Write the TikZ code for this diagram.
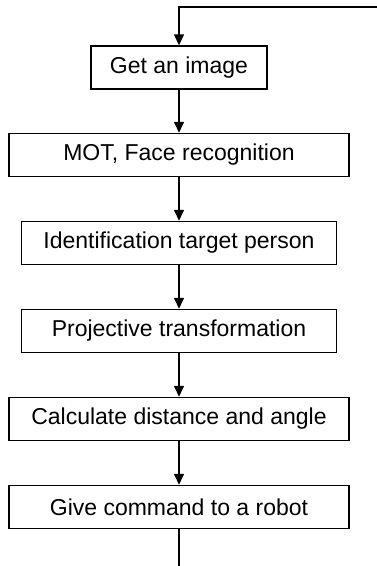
\documentclass[tikz,border=0pt]{standalone}
\usepackage{fontspec}
\setmainfont{Liberation Sans}
\usetikzlibrary{arrows.meta}
\begin{document}
\begin{tikzpicture}[x=1pt,y=-1pt,>={Triangle[width=10pt,length=11pt]},line width=1.4pt,font=\fontsize{23}{27}\selectfont]
			\tikzset{stepbox/.style={draw,minimum height=43pt,inner sep=0pt}}
			\useasboundingbox (0,0) rectangle (377,566);
			\def\cx{179}
			% steps of the loop
			\node [stepbox, minimum width=176pt] (image) at (\cx,67.5) {Get an image};
			\node [stepbox, minimum width=340pt] (mot) at (\cx,155) {MOT, Face recognition};
			\node [stepbox, minimum width=315pt] (ident) at (\cx,243) {Identification target person};
			\node [stepbox, minimum width=315pt] (proj) at (\cx,331) {Projective transformation};
			\node [stepbox, minimum width=340pt] (calc) at (\cx,419) {Calculate distance and angle};
			\node [stepbox, minimum width=340pt] (cmd) at (\cx,507) {Give command to a robot};
			\coordinate (loopin) at (377,7);
			\coordinate (loopout) at (\cx,566);
			\draw [->] (loopin) -| (image.north);
			\draw [->] (image) -- (mot);
			\draw [->] (mot) -- (ident);
			\draw [->] (ident) -- (proj);
			\draw [->] (proj) -- (calc);
			\draw [->] (calc) -- (cmd);
			\draw (cmd) -- (loopout);
		\end{tikzpicture}
\end{document}
